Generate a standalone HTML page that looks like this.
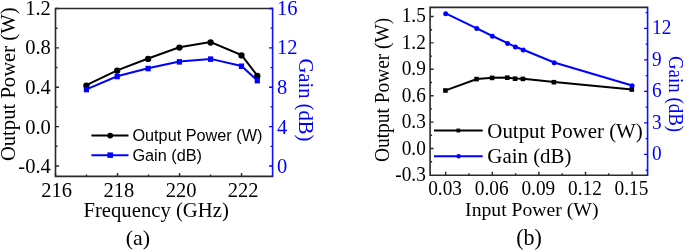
<!DOCTYPE html>
<html><head><meta charset="utf-8"><style>
html,body{margin:0;padding:0;background:#fff;width:685px;height:250px;overflow:hidden}
svg{display:block;will-change:transform}
</style></head><body>
<svg width="685" height="250" viewBox="0 0 685 250">
<rect width="685" height="250" fill="#fff"/>
<g fill="none">
<path d="M272.6,8.5 H55.5 V176.4 H272.6" stroke="#2a2a2a" stroke-width="1.6"/>
<path d="M272.6,7.7 V177.20000000000002" stroke="#1010ff" stroke-width="1.6"/>
<path d="M55.5,8.50h3.5 M55.5,28.19h2 M55.5,47.87h3.5 M55.5,67.56h2 M55.5,87.25h3.5 M55.5,106.94h2 M55.5,126.62h3.5 M55.5,146.31h2 M55.5,166.00h3.5 M55.50,176.4v-3.5 M86.51,176.4v-2 M117.53,176.4v-3.5 M148.54,176.4v-2 M179.56,176.4v-3.5 M210.57,176.4v-2 M241.59,176.4v-3.5" stroke="#2a2a2a" stroke-width="1.4"/>
<path d="M272.6,8.50h-3.5 M272.6,28.19h-2 M272.6,47.87h-3.5 M272.6,67.56h-2 M272.6,87.25h-3.5 M272.6,106.94h-2 M272.6,126.62h-3.5 M272.6,146.31h-2 M272.6,166.00h-3.5" stroke="#0000ff" stroke-width="1.3"/>
<polyline points="86.4,85.2 117.2,70.3 148.1,58.5 179.4,47.2 210.6,42.1 241.5,55.0 257.3,75.6" stroke="#000" stroke-width="2"/>
</g>
<circle cx="86.4" cy="85.60" r="3.15" fill="#000"/>
<circle cx="117.2" cy="70.70" r="3.15" fill="#000"/>
<circle cx="148.1" cy="58.90" r="3.15" fill="#000"/>
<circle cx="179.4" cy="47.60" r="3.15" fill="#000"/>
<circle cx="210.6" cy="42.50" r="3.15" fill="#000"/>
<circle cx="241.5" cy="55.40" r="3.15" fill="#000"/>
<circle cx="257.3" cy="76.00" r="3.15" fill="#000"/>
<polyline points="86.4,89.3 117.2,76.3 148.1,68.3 179.4,61.6 210.6,58.9 241.5,66.0 257.3,80.4" fill="none" stroke="#0000ff" stroke-width="2"/>
<rect x="83.80" y="86.80" width="5.2" height="5.5" fill="#0000ff"/>
<rect x="114.60" y="73.80" width="5.2" height="5.5" fill="#0000ff"/>
<rect x="145.50" y="65.80" width="5.2" height="5.5" fill="#0000ff"/>
<rect x="176.80" y="59.10" width="5.2" height="5.5" fill="#0000ff"/>
<rect x="208.00" y="56.40" width="5.2" height="5.5" fill="#0000ff"/>
<rect x="238.90" y="63.50" width="5.2" height="5.5" fill="#0000ff"/>
<rect x="254.70" y="77.90" width="5.2" height="5.5" fill="#0000ff"/>
<path d="M91.4,135.6 H128.5" stroke="#000" stroke-width="2"/>
<circle cx="110.2" cy="135.6" r="2.95" fill="#000"/>
<path d="M91.4,155.2 H128.5" stroke="#0000ff" stroke-width="2"/>
<rect x="107.4" y="152.4" width="5.6" height="5.5" fill="#0000ff"/>
<text transform="translate(132.40,141.10)" font-family="&quot;Liberation Sans&quot;,sans-serif" font-size="16.25" fill="#000">Output Power (W)</text>
<text transform="translate(132.40,160.70)" font-family="&quot;Liberation Sans&quot;,sans-serif" font-size="16.25" fill="#000">Gain (dB)</text>
<text transform="translate(50.80,14.75)" text-anchor="end" font-family="&quot;Liberation Serif&quot;,serif" font-size="20.5" fill="#000">1.2</text>
<text transform="translate(50.80,54.35)" text-anchor="end" font-family="&quot;Liberation Serif&quot;,serif" font-size="20.5" fill="#000">0.8</text>
<text transform="translate(50.80,93.95)" text-anchor="end" font-family="&quot;Liberation Serif&quot;,serif" font-size="20.5" fill="#000">0.4</text>
<text transform="translate(50.80,133.55)" text-anchor="end" font-family="&quot;Liberation Serif&quot;,serif" font-size="20.5" fill="#000">0.0</text>
<text transform="translate(50.80,173.15)" text-anchor="end" font-family="&quot;Liberation Serif&quot;,serif" font-size="20.5" fill="#000">-0.4</text>
<text transform="translate(277.00,14.75)" font-family="&quot;Liberation Serif&quot;,serif" font-size="20.5" fill="#0000ff">16</text>
<text transform="translate(277.00,54.35)" font-family="&quot;Liberation Serif&quot;,serif" font-size="20.5" fill="#0000ff">12</text>
<text transform="translate(277.00,93.95)" font-family="&quot;Liberation Serif&quot;,serif" font-size="20.5" fill="#0000ff">8</text>
<text transform="translate(277.00,133.55)" font-family="&quot;Liberation Serif&quot;,serif" font-size="20.5" fill="#0000ff">4</text>
<text transform="translate(277.00,173.15)" font-family="&quot;Liberation Serif&quot;,serif" font-size="20.5" fill="#0000ff">0</text>
<text transform="translate(56.70,197.00)" text-anchor="middle" font-family="&quot;Liberation Serif&quot;,serif" font-size="20.5" fill="#000">216</text>
<text transform="translate(118.88,197.00)" text-anchor="middle" font-family="&quot;Liberation Serif&quot;,serif" font-size="20.5" fill="#000">218</text>
<text transform="translate(181.06,197.00)" text-anchor="middle" font-family="&quot;Liberation Serif&quot;,serif" font-size="20.5" fill="#000">220</text>
<text transform="translate(243.24,197.00)" text-anchor="middle" font-family="&quot;Liberation Serif&quot;,serif" font-size="20.5" fill="#000">222</text>
<text transform="translate(156.10,217.10)" text-anchor="middle" font-family="&quot;Liberation Serif&quot;,serif" font-size="20.7" fill="#000">Frequency (GHz)</text>
<text transform="translate(137.90,244.80) scale(1.0,0.96)" text-anchor="middle" font-family="&quot;Liberation Serif&quot;,serif" font-size="22" fill="#000">(a)</text>
<text transform="translate(15.30,84.30) rotate(-90) scale(1.0,1.06)" text-anchor="middle" font-family="&quot;Liberation Serif&quot;,serif" font-size="20.65" fill="#000">Output Power (W)</text>
<text transform="translate(298.50,99.90) rotate(90) scale(1.0,1.05)" text-anchor="middle" font-family="&quot;Liberation Serif&quot;,serif" font-size="20.6" fill="#0000ff">Gain (dB)</text>
<g fill="none">
<path d="M647.6,7.4 H430.1 V175.2 H647.6" stroke="#2a2a2a" stroke-width="1.6"/>
<path d="M647.6,6.6000000000000005 V176.0" stroke="#1010ff" stroke-width="1.6"/>
<path d="M430.1,16.50h3.5 M430.1,29.70h2 M430.1,42.90h3.5 M430.1,56.10h2 M430.1,69.30h3.5 M430.1,82.50h2 M430.1,95.70h3.5 M430.1,108.90h2 M430.1,122.10h3.5 M430.1,135.30h2 M430.1,148.50h3.5 M430.1,161.70h2 M445.70,175.2v-3.5 M469.00,175.2v-2 M492.30,175.2v-3.5 M515.60,175.2v-2 M538.90,175.2v-3.5 M562.20,175.2v-2 M585.50,175.2v-3.5 M608.80,175.2v-2 M632.10,175.2v-3.5" stroke="#2a2a2a" stroke-width="1.4"/>
<path d="M647.6,12.65h-2 M647.6,28.40h-3.5 M647.6,44.15h-2 M647.6,59.90h-3.5 M647.6,75.65h-2 M647.6,91.40h-3.5 M647.6,107.15h-2 M647.6,122.90h-3.5 M647.6,138.65h-2 M647.6,154.40h-3.5 M647.6,170.15h-2" stroke="#0000ff" stroke-width="1.3"/>
<polyline points="445.7,90.4 476.8,79.0 492.4,77.8 507.6,77.6 515.4,78.6 523.2,78.8 554.2,82.1 632.1,89.4" stroke="#000" stroke-width="2"/>
</g>
<rect x="443.10" y="88.20" width="4.6" height="4.6" fill="#000"/>
<rect x="474.20" y="76.80" width="4.6" height="4.6" fill="#000"/>
<rect x="489.80" y="75.60" width="4.6" height="4.6" fill="#000"/>
<rect x="505.00" y="75.40" width="4.6" height="4.6" fill="#000"/>
<rect x="512.80" y="76.40" width="4.6" height="4.6" fill="#000"/>
<rect x="520.60" y="76.60" width="4.6" height="4.6" fill="#000"/>
<rect x="551.60" y="79.90" width="4.6" height="4.6" fill="#000"/>
<rect x="629.50" y="87.20" width="4.6" height="4.6" fill="#000"/>
<polyline points="445.7,13.4 476.8,28.3 492.4,36.0 507.6,43.2 515.4,46.8 523.2,49.8 554.2,62.5 632.1,85.5" fill="none" stroke="#0000ff" stroke-width="2"/>
<circle cx="445.7" cy="13.70" r="2.5" fill="#0000ff"/>
<circle cx="476.8" cy="28.60" r="2.5" fill="#0000ff"/>
<circle cx="492.4" cy="36.30" r="2.5" fill="#0000ff"/>
<circle cx="507.6" cy="43.50" r="2.5" fill="#0000ff"/>
<circle cx="515.4" cy="47.10" r="2.5" fill="#0000ff"/>
<circle cx="523.2" cy="50.10" r="2.5" fill="#0000ff"/>
<circle cx="554.2" cy="62.80" r="2.5" fill="#0000ff"/>
<circle cx="632.1" cy="85.80" r="2.5" fill="#0000ff"/>
<path d="M434,130.4 H482.7" stroke="#000" stroke-width="2"/>
<rect x="456.4" y="128.6" width="3.8" height="3.8" fill="#000"/>
<path d="M434,156.3 H482.7" stroke="#0000ff" stroke-width="2"/>
<circle cx="458.6" cy="156.2" r="2.3" fill="#0000ff"/>
<text transform="translate(487.30,138.10)" font-family="&quot;Liberation Serif&quot;,serif" font-size="20.9" fill="#000">Output Power (W)</text>
<text transform="translate(487.30,163.10)" font-family="&quot;Liberation Serif&quot;,serif" font-size="20.9" fill="#000">Gain (dB)</text>
<text transform="translate(425.80,22.25) scale(1.0,1.05)" text-anchor="end" font-family="&quot;Liberation Serif&quot;,serif" font-size="19.3" fill="#000">1.5</text>
<text transform="translate(425.80,48.78) scale(1.0,1.05)" text-anchor="end" font-family="&quot;Liberation Serif&quot;,serif" font-size="19.3" fill="#000">1.2</text>
<text transform="translate(425.80,75.31) scale(1.0,1.05)" text-anchor="end" font-family="&quot;Liberation Serif&quot;,serif" font-size="19.3" fill="#000">0.9</text>
<text transform="translate(425.80,101.84) scale(1.0,1.05)" text-anchor="end" font-family="&quot;Liberation Serif&quot;,serif" font-size="19.3" fill="#000">0.6</text>
<text transform="translate(425.80,128.37) scale(1.0,1.05)" text-anchor="end" font-family="&quot;Liberation Serif&quot;,serif" font-size="19.3" fill="#000">0.3</text>
<text transform="translate(425.80,154.90) scale(1.0,1.05)" text-anchor="end" font-family="&quot;Liberation Serif&quot;,serif" font-size="19.3" fill="#000">0.0</text>
<text transform="translate(425.80,181.43) scale(1.0,1.05)" text-anchor="end" font-family="&quot;Liberation Serif&quot;,serif" font-size="19.3" fill="#000">-0.3</text>
<text transform="translate(652.10,34.45) scale(1.0,1.05)" font-family="&quot;Liberation Serif&quot;,serif" font-size="19.3" fill="#0000ff">12</text>
<text transform="translate(652.10,65.84) scale(1.0,1.05)" font-family="&quot;Liberation Serif&quot;,serif" font-size="19.3" fill="#0000ff">9</text>
<text transform="translate(652.10,97.23) scale(1.0,1.05)" font-family="&quot;Liberation Serif&quot;,serif" font-size="19.3" fill="#0000ff">6</text>
<text transform="translate(652.10,128.62) scale(1.0,1.05)" font-family="&quot;Liberation Serif&quot;,serif" font-size="19.3" fill="#0000ff">3</text>
<text transform="translate(652.10,160.01) scale(1.0,1.05)" font-family="&quot;Liberation Serif&quot;,serif" font-size="19.3" fill="#0000ff">0</text>
<text transform="translate(445.10,194.90) scale(1.0,1.06)" text-anchor="middle" font-family="&quot;Liberation Serif&quot;,serif" font-size="19.3" fill="#000">0.03</text>
<text transform="translate(491.70,194.90) scale(1.0,1.06)" text-anchor="middle" font-family="&quot;Liberation Serif&quot;,serif" font-size="19.3" fill="#000">0.06</text>
<text transform="translate(538.30,194.90) scale(1.0,1.06)" text-anchor="middle" font-family="&quot;Liberation Serif&quot;,serif" font-size="19.3" fill="#000">0.09</text>
<text transform="translate(584.90,194.90) scale(1.0,1.06)" text-anchor="middle" font-family="&quot;Liberation Serif&quot;,serif" font-size="19.3" fill="#000">0.12</text>
<text transform="translate(631.50,194.90) scale(1.0,1.06)" text-anchor="middle" font-family="&quot;Liberation Serif&quot;,serif" font-size="19.3" fill="#000">0.15</text>
<text transform="translate(531.80,215.70)" text-anchor="middle" font-family="&quot;Liberation Serif&quot;,serif" font-size="19.7" fill="#000">Input Power (W)</text>
<text transform="translate(529.10,244.60) scale(1.0,1.03)" text-anchor="middle" font-family="&quot;Liberation Serif&quot;,serif" font-size="22" fill="#000">(b)</text>
<text transform="translate(389.20,89.90) rotate(-90) scale(1.0,1.07)" text-anchor="middle" font-family="&quot;Liberation Serif&quot;,serif" font-size="19.4" fill="#000">Output Power (W)</text>
<text transform="translate(669.30,94.00) rotate(90) scale(1.0,1.1)" text-anchor="middle" font-family="&quot;Liberation Serif&quot;,serif" font-size="18.9" fill="#0000ff">Gain (dB)</text>
</svg>
</body></html>
